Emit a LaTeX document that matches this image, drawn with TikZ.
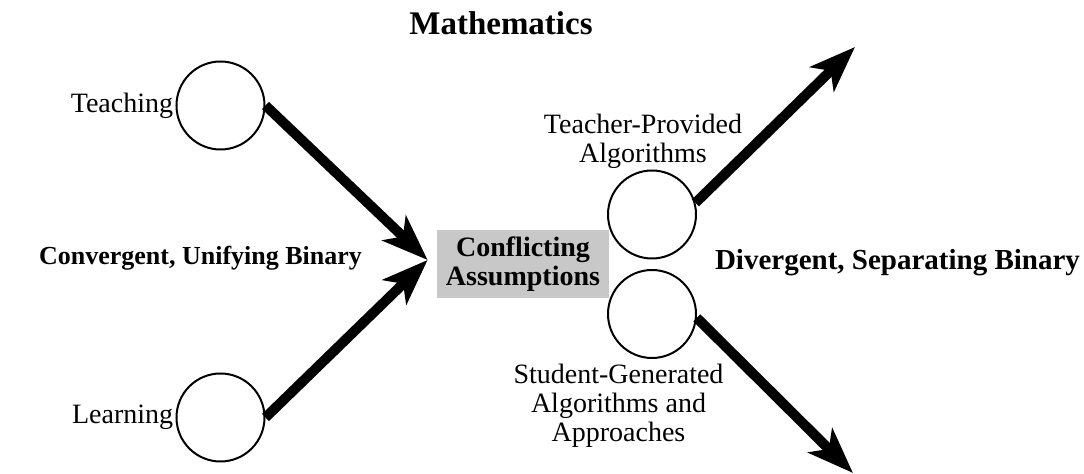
\documentclass[tikz,border=0pt]{standalone}
\usepackage{fontspec}
\setmainfont{Liberation Serif}
\usepackage{xcolor}
\usetikzlibrary{arrows.meta,positioning}
\definecolor{boxgray}{RGB}{200,200,200}

\begin{document}
\begin{tikzpicture}[
  x=0.5pt, y=-0.5pt,
  node distance=1pt,
  ring/.style={draw, circle, line width=1pt, minimum size=44pt, inner sep=0pt},
  lbl/.style={inner sep=0pt, align=center, font=\fontsize{14}{14.5}\selectfont},
  heading/.style={inner sep=0pt, anchor=base},
  clash/.style={fill=boxgray, inner sep=0pt, minimum width=86pt, minimum height=34pt,
                align=center, font=\bfseries\fontsize{14}{14.5}\selectfont},
  fat/.style={line width=5pt, -{Stealth[length=23pt, width=17pt, inset=6pt]}}]
\useasboundingbox (0,0) rectangle (1084,474);
\node[heading, font=\bfseries\fontsize{16.5}{18}\selectfont] (math) at (501,35) {Mathematics};
\node[heading, font=\bfseries\fontsize{13}{15}\selectfont] (conv) at (200.5,265) {Convergent, Unifying Binary};
\node[heading, font=\bfseries\fontsize{14.5}{16}\selectfont] (div) at (897.5,270) {Divergent, Separating Binary};
% left pair
\node[ring] (teach) at (220.5,105.5) {};
\node[ring] (learn) at (220.5,417.5) {};
\node[lbl, left=1pt of teach] (teachlbl) {Teaching};
\node[lbl, left=1pt of learn] (learnlbl) {Learning};
% middle
\node[clash] (clash) at (523,264) {Conflicting\\Assumptions};
\coordinate (meet) at ([shift={(-4.5pt,2pt)}]clash.west);
% right pair
\node[ring] (tprov) at (652,214.5) {};
\node[ring] (sgen) at (652,314) {};
\node[lbl, above=0.5pt of tprov, xshift=-4.5pt] (tprovlbl) {Teacher-Provided\\Algorithms};
\node[lbl, below=2.5pt of sgen, xshift=-16.75pt] (sgenlbl) {Student-Generated\\Algorithms and\\Approaches};
\coordinate (up) at (855,47);
\coordinate (down) at (853,473);
% arrows
\draw[fat] (teach.east) -- (meet);
\draw[fat] (learn.east) -- (meet);
\draw[fat] (tprov.15) -- (up);
\draw[fat] (sgen.-5) -- (down);
\end{tikzpicture}
\end{document}
